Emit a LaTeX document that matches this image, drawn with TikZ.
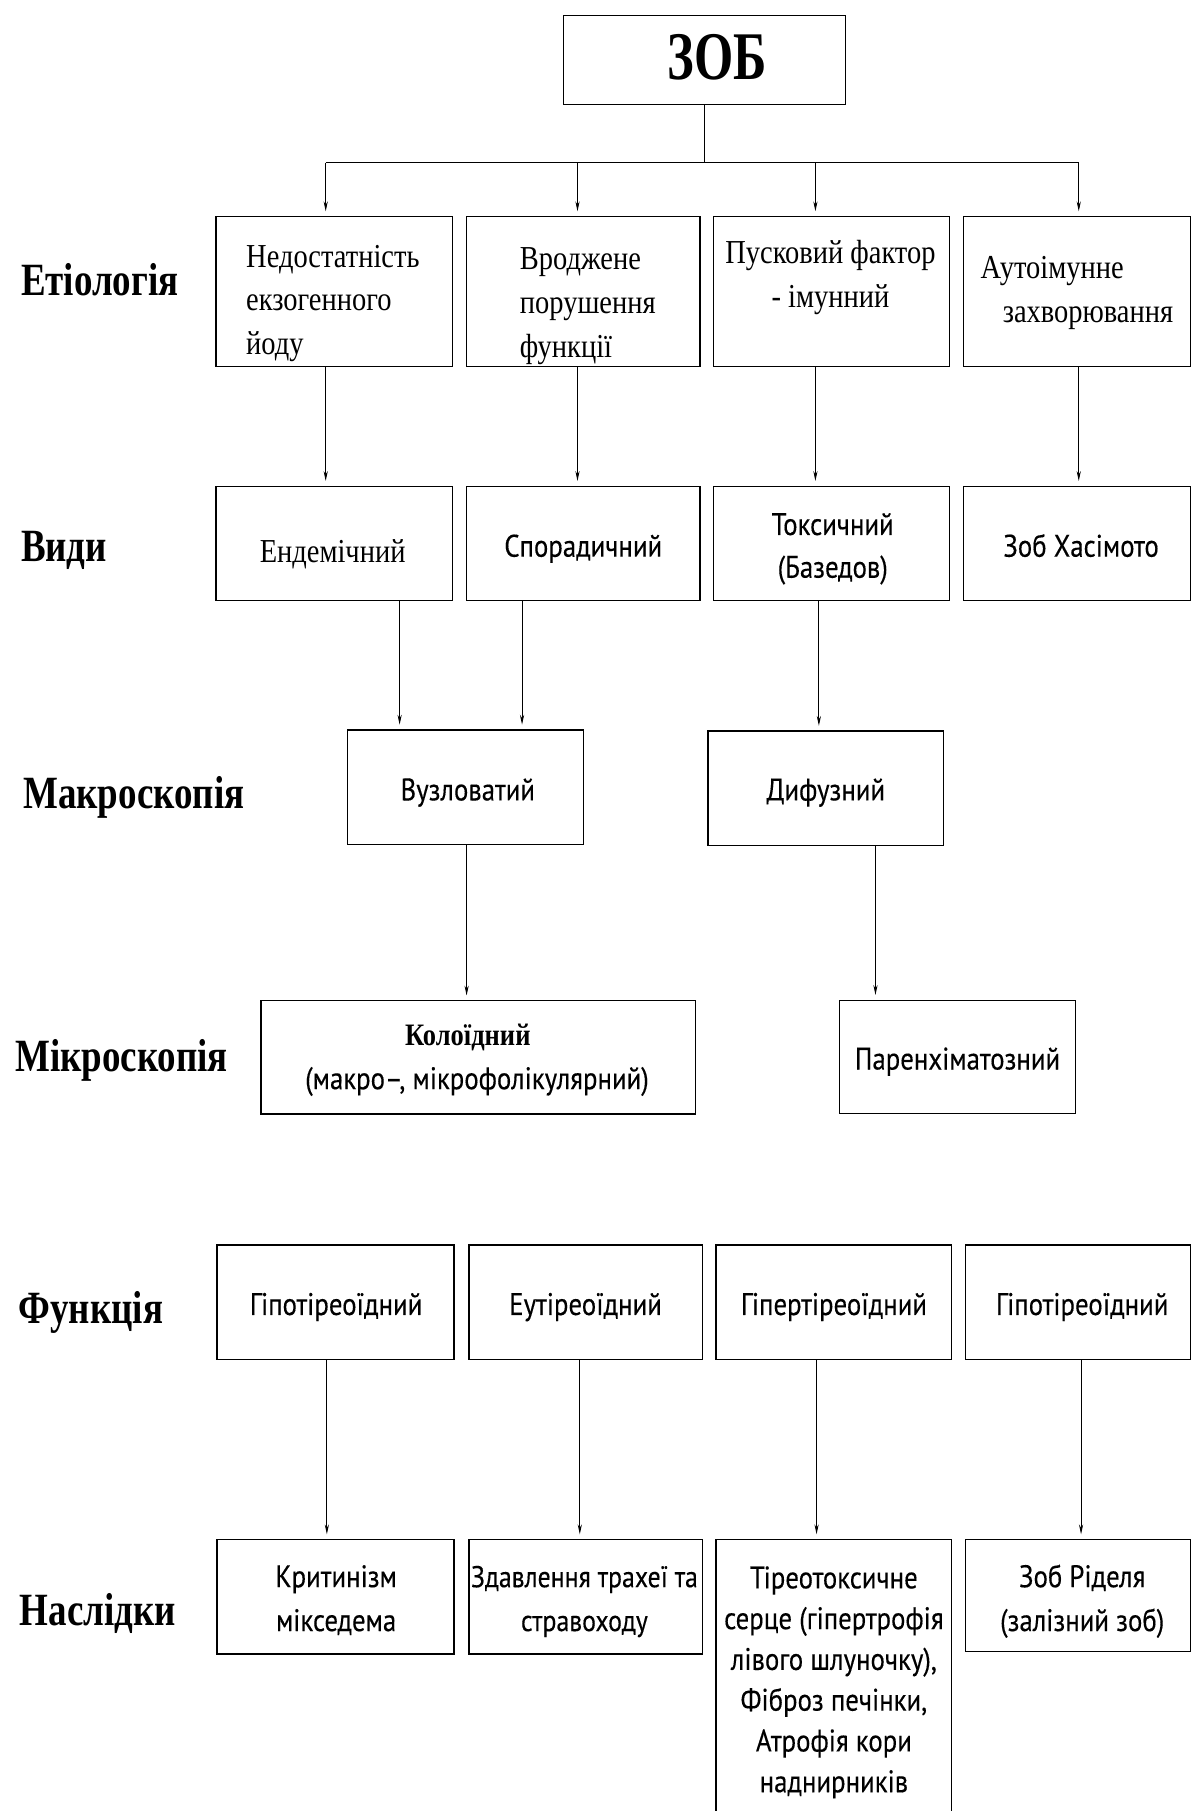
\documentclass[tikz,border=0pt]{standalone}
\usepackage{fontspec}
\setmainfont{Liberation Serif}[FakeStretch=0.85]
\newfontfamily\headfont{Liberation Serif}[FakeStretch=0.8]
\newfontfamily\titlefont{Liberation Serif}[FakeStretch=0.74]
\newfontfamily\condsans{PT Sans}[FakeStretch=0.86, FakeBold=0.3]
\usetikzlibrary{arrows.meta}

\tikzset{
  box/.style={draw, line width=1.2pt, inner sep=0pt},
  wire/.style={line width=0.8pt},
  arr/.style={line width=0.8pt, -{Stealth[length=8.5pt,width=3.6pt]}, shorten >=4pt},
  rowlabel/.style={anchor=base west, inner sep=0pt, font=\headfont\bfseries\fontsize{40}{40}\selectfont},
  serif/.style={inner sep=0pt, font=\fontsize{29}{38}\selectfont},
  sans/.style={inner sep=0pt, font=\condsans\fontsize{27}{37}\selectfont},
  sanswide/.style={inner sep=0pt, font=\condsans\fontsize{27}{38}\selectfont},
  sanstight/.style={inner sep=0pt, font=\condsans\fontsize{27}{35.3}\selectfont},
}

\begin{document}
\begin{tikzpicture}[x=1pt,y=-1pt]
\useasboundingbox (0,0) rectangle (1031,1568);

% ---- root ----
\node[box, minimum width=244pt, minimum height=77pt] (zob) at (610,52) {};
\node[anchor=base, inner sep=0pt, font=\titlefont\bfseries\fontsize{59}{59}\selectfont] (zobt) at (621,69) {ЗОБ};

% ---- row labels ----
\node[rowlabel] (l1) at (18,256) {Етіологія};
\node[rowlabel] (l2) at (18,486) {Види};
\node[rowlabel] (l3) at (20,700) {Макроскопія};
\node[rowlabel] (l4) at (13,928) {Мікроскопія};
\node[rowlabel] (l5) at (16,1146) {Функція};
\node[rowlabel] (l6) at (17,1407) {Наслідки};

% ---- etiology ----
\node[box, minimum width=205pt, minimum height=130pt] (e1) at (289.5,252.5) {};
\node[box, minimum width=202pt, minimum height=130pt] (e2) at (505,252.5) {};
\node[box, minimum width=204pt, minimum height=130pt] (e3) at (720,252.5) {};
\node[box, minimum width=196.5pt, minimum height=130pt] (e4) at (932.25,252.5) {};
\node[serif, anchor=north west, align=left] (e1t) at (213,204.4) {\strut Недостатність\\екзогенного\\йоду};
\node[serif, anchor=north west, align=left] (e2t) at (450,206.4) {\strut Вроджене\\порушення\\функції};
\node[serif, anchor=north, align=center] (e3t) at (719,201.4) {\strut Пусковий фактор\\- імунний};
\node[serif, anchor=base] (e4a) at (911,241) {Аутоімунне};
\node[serif, anchor=base] (e4b) at (942,279) {захворювання};

% ---- kinds ----
\node[box, minimum width=205pt, minimum height=99pt] (v1) at (289.5,470.5) {};
\node[box, minimum width=202pt, minimum height=99pt] (v2) at (505,470.5) {};
\node[box, minimum width=204pt, minimum height=99pt] (v3) at (720,470.5) {};
\node[box, minimum width=196.5pt, minimum height=99pt] (v4) at (932.25,470.5) {};
\node[serif, anchor=base] (v1t) at (288,487) {Ендемічний};
\node[sans, anchor=base] (v2t) at (505,482) {Спорадичний};
\node[sans, anchor=north, align=center] (v3t) at (721,437.1) {\strut Токсичний\\(Базедов)};
\node[sans, anchor=base] (v4t) at (936,482) {Зоб Хасімото};

% ---- macroscopy ----
\node[box, minimum width=204pt, minimum height=99pt] (m1) at (403,681.5) {};
\node[box, minimum width=204pt, minimum height=99pt] (m2) at (715,682.5) {};
\node[sans, anchor=base] (m1t) at (405,693) {Вузловатий};
\node[sans, anchor=base] (m2t) at (715,693) {Дифузний};

% ---- microscopy ----
\node[box, minimum width=376pt, minimum height=98pt] (k1) at (414,915.5) {};
\node[box, minimum width=204pt, minimum height=98pt] (k2) at (829,915) {};
\node[anchor=base, inner sep=0pt, font=\bfseries\fontsize{27}{27}\selectfont] (k1a) at (405,905) {Колоїдний};
\node[sans, anchor=base] (k1b) at (413,943) {(макро–, мікрофолікулярний)};
\node[sans, anchor=base] (k2t) at (829,926) {Паренхіматозний};

% ---- function ----
\node[box, minimum width=205pt, minimum height=99pt] (f1) at (290.5,1127.5) {};
\node[box, minimum width=202pt, minimum height=99pt] (f2) at (507,1127.5) {};
\node[box, minimum width=204pt, minimum height=99pt] (f3) at (722,1127.5) {};
\node[box, minimum width=194.5pt, minimum height=99pt] (f4) at (933.25,1127.5) {};
\node[sans, anchor=base] (f1t) at (291,1138.5) {Гіпотіреоїдний};
\node[sans, anchor=base] (f2t) at (507,1138.5) {Еутіреоїдний};
\node[sans, anchor=base] (f3t) at (722,1138.5) {Гіпертіреоїдний};
\node[sans, anchor=base] (f4t) at (937,1138.5) {Гіпотіреоїдний};

% ---- consequences ----
\node[box, minimum width=205pt, minimum height=99pt] (n1) at (290.5,1382.5) {};
\node[box, minimum width=202pt, minimum height=99pt] (n2) at (507,1382.5) {};
\node[box, minimum width=204pt, minimum height=280pt] (n3) at (722,1473) {};
\node[box, minimum width=194.5pt, minimum height=97pt] (n4) at (933.25,1381.5) {};
\node[sanswide, anchor=north, align=center] (n1t) at (291,1347.4) {\strut Критинізм\\мікседема};
\node[sanswide, anchor=north, align=center, font=\condsans\fontsize{26}{38}\selectfont] (n2t) at (506,1347.4) {\strut Здавлення трахеї та\\стравоходу};
\node[sanstight, anchor=north, align=center] (n3t) at (722,1350.3) {\strut Тіреотоксичне\\серце (гіпертрофія\\лівого шлуночку),\\Фіброз печінки,\\Атрофія кори\\наднирників};
\node[sanswide, anchor=north, align=center] (n4t) at (937,1347.4) {\strut Зоб Ріделя\\(залізний зоб)};

% ---- column positions of the connectors ----
\coordinate (hub) at (609.5,141);
\coordinate (c1) at (282,141);
\coordinate (c2) at (500,141);
\coordinate (c3) at (706,141);
\coordinate (c4) at (934,141);
\coordinate (d1) at (346,0);
\coordinate (d2) at (452,0);
\coordinate (d3) at (709,0);
\coordinate (g1) at (404,0);
\coordinate (g2) at (758,0);
\coordinate (h1) at (283,0);
\coordinate (h2) at (502,0);
\coordinate (h3) at (707,0);
\coordinate (h4) at (936,0);

% ---- connectors ----
\draw[wire] (zob.south -| hub) -- (hub);
\draw[wire] (c1) -- (c4);
\draw[arr] (c1) -- (e1.north -| c1);
\draw[arr] (c2) -- (e2.north -| c2);
\draw[arr] (c3) -- (e3.north -| c3);
\draw[arr] (c4) -- (e4.north -| c4);

\draw[arr] (e1.south -| c1) -- (v1.north -| c1);
\draw[arr] (e2.south -| c2) -- (v2.north -| c2);
\draw[arr] (e3.south -| c3) -- (v3.north -| c3);
\draw[arr] (e4.south -| c4) -- (v4.north -| c4);

\draw[arr] (v1.south -| d1) -- (m1.north -| d1);
\draw[arr] (v2.south -| d2) -- (m1.north -| d2);
\draw[arr] (v3.south -| d3) -- (m2.north -| d3);

\draw[arr] (m1.south -| g1) -- (k1.north -| g1);
\draw[arr] (m2.south -| g2) -- (k2.north -| g2);

\draw[arr] (f1.south -| h1) -- (n1.north -| h1);
\draw[arr] (f2.south -| h2) -- (n2.north -| h2);
\draw[arr] (f3.south -| h3) -- (n3.north -| h3);
\draw[arr] (f4.south -| h4) -- (n4.north -| h4);
\end{tikzpicture}
\end{document}
